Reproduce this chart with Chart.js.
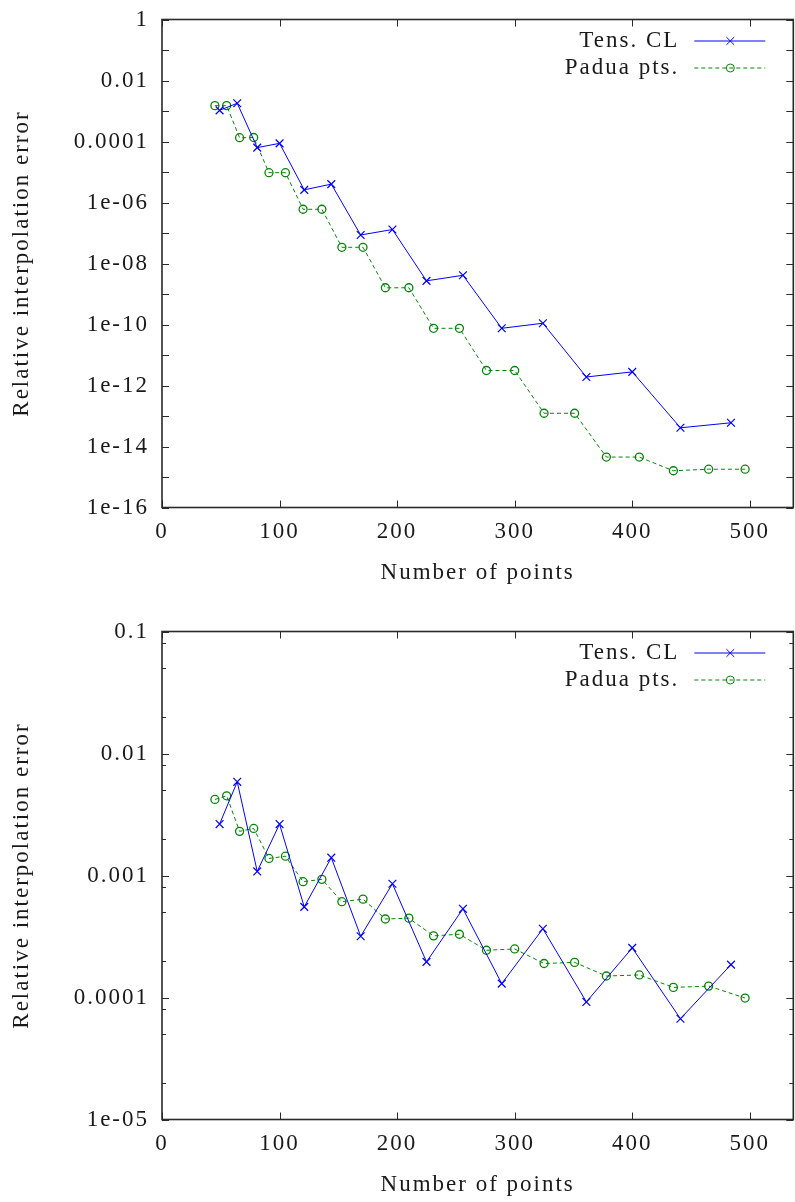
<!DOCTYPE html>
<html>
<head>
<meta charset="utf-8">
<script src="https://cdn.jsdelivr.net/npm/chart.js@4.4.0/dist/chart.umd.min.js"></script>
<style>
    html, body { margin: 0; padding: 0; background: #fff; overflow: hidden; }
    #wrap { position: relative; width: 795px; height: 1202px; overflow: hidden; }
    .panel { position: absolute; left: 0; width: 800px; height: 600px; }
    #top-panel { top: 0; }
    #bottom-panel { top: 612px; }
</style>
</head>
<body>
<div id="wrap">
    <div class="panel" id="top-panel"><canvas id="chart-top" width="800" height="600"></canvas></div>
    <div class="panel" id="bottom-panel"><canvas id="chart-bottom" width="800" height="600"></canvas></div>
</div>
<script>
// number of interpolation points
const tensPoints = [49, 64, 81, 100, 121, 144, 169, 196, 225, 256, 289, 324, 361, 400, 441, 484];
const paduaPoints = [45, 55, 66, 78, 91, 105, 120, 136, 153, 171, 190, 210, 231, 253, 276, 300, 325, 351, 378, 406, 435, 465, 496];

// top panel errors
const tensErrorTop = [1.05e-3, 1.8e-3, 6.3e-5, 8.7e-5, 2.6e-6, 4.0e-6, 8.6e-8, 1.3e-7, 2.7e-9, 4.1e-9, 7.5e-11, 1.1e-10, 1.9e-12, 2.8e-12, 4.1e-14, 6.0e-14];
const paduaErrorTop = [1.5e-3, 1.5e-3, 1.33e-4, 1.35e-4, 9.5e-6, 9.5e-6, 6.0e-7, 6.0e-7, 3.4e-8, 3.4e-8, 1.6e-9, 1.6e-9, 7.5e-11, 7.5e-11, 3.1e-12, 3.1e-12, 1.23e-13, 1.23e-13, 4.5e-15, 4.5e-15, 1.6e-15, 1.8e-15, 1.8e-15];

// bottom panel errors
const tensErrorBottom = [2.64e-3, 5.86e-3, 1.08e-3, 2.64e-3, 5.53e-4, 1.40e-3, 3.18e-4, 8.55e-4, 1.96e-4, 5.33e-4, 1.30e-4, 3.66e-4, 9.2e-5, 2.55e-4, 6.7e-5, 1.86e-4];
const paduaErrorBottom = [4.2e-3, 4.5e-3, 2.3e-3, 2.43e-3, 1.38e-3, 1.44e-3, 8.9e-4, 9.3e-4, 6.1e-4, 6.4e-4, 4.4e-4, 4.47e-4, 3.2e-4, 3.3e-4, 2.44e-4, 2.5e-4, 1.9e-4, 1.94e-4, 1.5e-4, 1.53e-4, 1.21e-4, 1.24e-4, 9.9e-5];

// ticks
const xTicks = [0, 100, 200, 300, 400, 500];
const topYTicks = [1, 1e-2, 1e-4, 1e-6, 1e-8, 1e-10, 1e-12, 1e-14, 1e-16];
const topYMinorTicks = [1e-1, 1e-3, 1e-5, 1e-7, 1e-9, 1e-11, 1e-13, 1e-15];
const bottomYTicks = [1e-1, 1e-2, 1e-3, 1e-4, 1e-5];
const bottomYMinorTicks = [8e-2, 5e-2, 2e-2, 8e-3, 5e-3, 2e-3, 8e-4, 5e-4, 2e-4, 8e-5, 5e-5, 2e-5];

const FONT_FAMILY = "'Liberation Serif', 'Times New Roman', serif";
const FONT_SIZE = 23;
const LETTER_SPACING = "2px";
const TEXT_COLOR = "#1a1a1a";
const AXIS_COLOR = "#2a2a2a";

function formatG(v) {
    // mimic C's %g
    const exp = Math.round(Math.log10(v));
    if (exp >= -4) return String(Number(v.toPrecision(6)));
    const e = Math.abs(exp);
    return "1e-" + (e < 10 ? "0" + e : e);
}

function toXY(xs, ys) {
    return xs.map((x, i) => ({x: x, y: ys[i]}));
}

const framePlugin = {
    id: "frame",
    beforeLayout(chart) {
        chart.ctx.letterSpacing = LETTER_SPACING;
    },
    beforeDraw(chart) {
        chart.ctx.letterSpacing = LETTER_SPACING;
    },
    afterDatasetsDraw(chart, args, opts) {
        const {ctx, chartArea: a, scales} = chart;
        ctx.save();
        ctx.strokeStyle = AXIS_COLOR;
        ctx.lineWidth = 1;
        ctx.beginPath();
        xTicks.forEach(v => {
            const x = Math.round(scales.x.getPixelForValue(v)) + 0.5;
            ctx.moveTo(x, a.bottom); ctx.lineTo(x, a.bottom - 7);
            ctx.moveTo(x, a.top); ctx.lineTo(x, a.top + 7);
        });
        opts.majorY.forEach(v => {
            const y = Math.round(scales.y.getPixelForValue(v)) + 0.5;
            ctx.moveTo(a.left, y); ctx.lineTo(a.left + 7, y);
            ctx.moveTo(a.right, y); ctx.lineTo(a.right - 7, y);
        });
        opts.minorY.forEach(v => {
            const y = Math.round(scales.y.getPixelForValue(v)) + 0.5;
            ctx.moveTo(a.left, y); ctx.lineTo(a.left + opts.minorLength, y);
            ctx.moveTo(a.right, y); ctx.lineTo(a.right - opts.minorLength, y);
        });
        ctx.stroke();

        ctx.lineWidth = 1.6;
        ctx.strokeRect(a.left, a.top, a.right - a.left, a.bottom - a.top);
        ctx.restore();
    },
    afterDraw(chart) {
        // gnuplot style key: text right aligned, sample line with marker on the right
        const {ctx, chartArea: a} = chart;
        ctx.save();
        ctx.letterSpacing = LETTER_SPACING;
        ctx.font = FONT_SIZE + "px " + FONT_FAMILY;
        ctx.textAlign = "right";
        ctx.textBaseline = "middle";
        chart.data.datasets.forEach((ds, i) => {
            const y = a.top + 21 + i * 27;
            ctx.fillStyle = TEXT_COLOR;
            ctx.fillText(ds.label, a.right - 114, y);
            ctx.strokeStyle = ds.borderColor;
            ctx.lineWidth = ds.borderWidth;
            ctx.setLineDash(ds.borderDash || []);
            ctx.beginPath();
            ctx.moveTo(a.right - 99, y + 0.5);
            ctx.lineTo(a.right - 28, y + 0.5);
            ctx.stroke();
            ctx.setLineDash([]);
            ctx.fillStyle = "rgba(0,0,0,0)";
            Chart.helpers.drawPoint(ctx, {
                pointStyle: ds.pointStyle,
                radius: ds.pointRadius,
                rotation: 0,
                borderWidth: ds.pointBorderWidth
            }, a.right - 63, y + 0.5);
        });
        ctx.restore();
    }
};

function makeChart(canvasId, tensErr, paduaErr, yMin, yMax, majorY, minorY, minorLength) {
    const font = {family: FONT_FAMILY, size: FONT_SIZE};
    return new Chart(document.getElementById(canvasId), {
        type: "line",
        data: {
            datasets: [{
                label: "Tens. CL",
                data: toXY(tensPoints, tensErr),
                borderColor: "#0000ff",
                backgroundColor: "rgba(0,0,0,0)",
                borderWidth: 1,
                pointStyle: "crossRot",
                pointRadius: 5.5,
                pointBorderWidth: 1.2,
                pointBorderColor: "#0000ff",
                tension: 0
            }, {
                label: "Padua pts.",
                data: toXY(paduaPoints, paduaErr),
                borderColor: "#078407",
                backgroundColor: "rgba(0,0,0,0)",
                borderWidth: 1,
                borderDash: [4, 3],
                pointStyle: "circle",
                pointRadius: 4,
                pointBorderWidth: 1.3,
                pointBorderColor: "#078407",
                tension: 0
            }]
        },
        options: {
            responsive: false,
            animation: false,
            devicePixelRatio: 1,
            layout: {
                padding: {top: 19.5, right: 4, bottom: 0, left: 0}
            },
            plugins: {
                legend: {display: false},
                tooltip: {enabled: false},
                frame: {majorY: majorY, minorY: minorY, minorLength: minorLength}
            },
            scales: {
                x: {
                    type: "linear",
                    min: 0,
                    max: 537,
                    afterBuildTicks: axis => {
                        axis.ticks = xTicks.map(v => ({value: v}));
                    },
                    afterFit: axis => {
                        axis.height = 92.5;
                        axis.paddingLeft = 0;
                        axis.paddingRight = 0;
                    },
                    grid: {display: false, drawTicks: false},
                    border: {display: false},
                    ticks: {
                        font: font,
                        color: TEXT_COLOR,
                        padding: 11,
                        maxRotation: 0,
                        autoSkip: false,
                        callback: v => String(v)
                    },
                    title: {
                        display: true,
                        text: "Number of points",
                        font: font,
                        color: TEXT_COLOR,
                        padding: {top: 0, bottom: 13}
                    }
                },
                y: {
                    type: "logarithmic",
                    min: yMin,
                    max: yMax,
                    afterBuildTicks: axis => {
                        axis.ticks = majorY.map(v => ({value: v, major: true}));
                    },
                    afterFit: axis => {
                        axis.width = 162;
                        axis.paddingTop = 0;
                        axis.paddingBottom = 0;
                    },
                    grid: {display: false, drawTicks: false},
                    border: {display: false},
                    ticks: {
                        font: font,
                        color: TEXT_COLOR,
                        padding: 13,
                        autoSkip: false,
                        callback: v => formatG(v)
                    },
                    title: {
                        display: true,
                        text: "Relative interpolation error",
                        font: font,
                        color: TEXT_COLOR,
                        padding: {top: 8, bottom: 0}
                    }
                }
            }
        },
        plugins: [framePlugin]
    });
}

makeChart("chart-top", tensErrorTop, paduaErrorTop, 1e-16, 1, topYTicks, topYMinorTicks, 7);
makeChart("chart-bottom", tensErrorBottom, paduaErrorBottom, 1e-5, 1e-1, bottomYTicks, bottomYMinorTicks, 4);
</script>
</body>
</html>
